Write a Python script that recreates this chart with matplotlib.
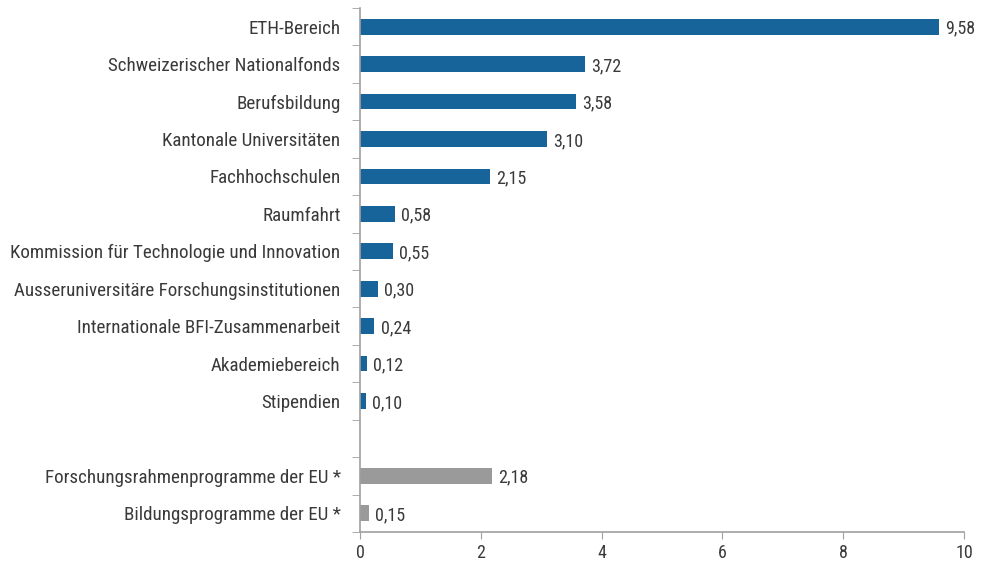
import matplotlib.pyplot as plt
import numpy as np

labels = ['ETH-Bereich', 'Schweizerischer Nationalfonds', 'Berufsbildung',
          'Kantonale Universitäten', 'Fachhochschulen', 'Raumfahrt',
          'Kommission für Technologie und Innovation',
          'Ausseruniversitäre Forschungsinstitutionen',
          'Internationale BFI-Zusammenarbeit', 'Akademiebereich', 'Stipendien']
values = [9.58, 3.72, 3.58, 3.10, 2.15, 0.58, 0.55, 0.30, 0.24, 0.12, 0.10]

eu_labels = ['Forschungsrahmenprogramme der EU *', 'Bildungsprogramme der EU *']
eu_values = [2.18, 0.15]

blue = '#17649a'
grey = '#9a9a9a'
axis_col = '#a0a0a0'
text_col = '#3a3a3a'

plt.rcParams['font.family'] = ['Liberation Sans Narrow', 'Roboto Condensed', 'Roboto', 'DejaVu Sans']

fig = plt.figure(figsize=(9.81, 5.66), dpi=100)
ax = fig.add_axes([360 / 981, 1 - 532 / 566, 604 / 981, 524 / 566])

pos = np.arange(len(labels))
eu_pos = np.arange(len(eu_labels)) + len(labels) + 1

ax.barh(pos, values, height=0.42, color=blue)
ax.barh(eu_pos, eu_values, height=0.42, color=grey)

for y, v in zip(pos, values):
    ax.text(v + 0.1, y + 0.05, f'{v:.2f}'.replace('.', ','), va='center', ha='left',
            fontsize=13, color=text_col)
for y, v in zip(eu_pos, eu_values):
    ax.text(v + 0.1, y + 0.05, f'{v:.2f}'.replace('.', ','), va='center', ha='left',
            fontsize=13, color=text_col)

ax.set_yticks(list(pos) + list(eu_pos))
ax.set_yticklabels(labels + eu_labels, fontsize=13.7, color=text_col)
n = len(labels) + len(eu_labels) + 1
ax.set_yticks(np.arange(n + 1) - 0.5, minor=True)
ax.tick_params(axis='y', which='major', length=0, pad=14)
ax.tick_params(axis='y', which='minor', length=6, color=axis_col, direction='out')

ax.set_xlim(0, 10)
ax.set_ylim(n - 0.5, -0.5)
ax.set_xticks([0, 2, 4, 6, 8, 10])
ax.tick_params(axis='x', length=5, color=axis_col, labelsize=13, labelcolor=text_col, pad=4)

for s in ['top', 'right']:
    ax.spines[s].set_visible(False)
for s in ['left', 'bottom']:
    ax.spines[s].set_color(axis_col)
    ax.spines[s].set_linewidth(1.2)

fig.savefig('out.png', dpi=100)
